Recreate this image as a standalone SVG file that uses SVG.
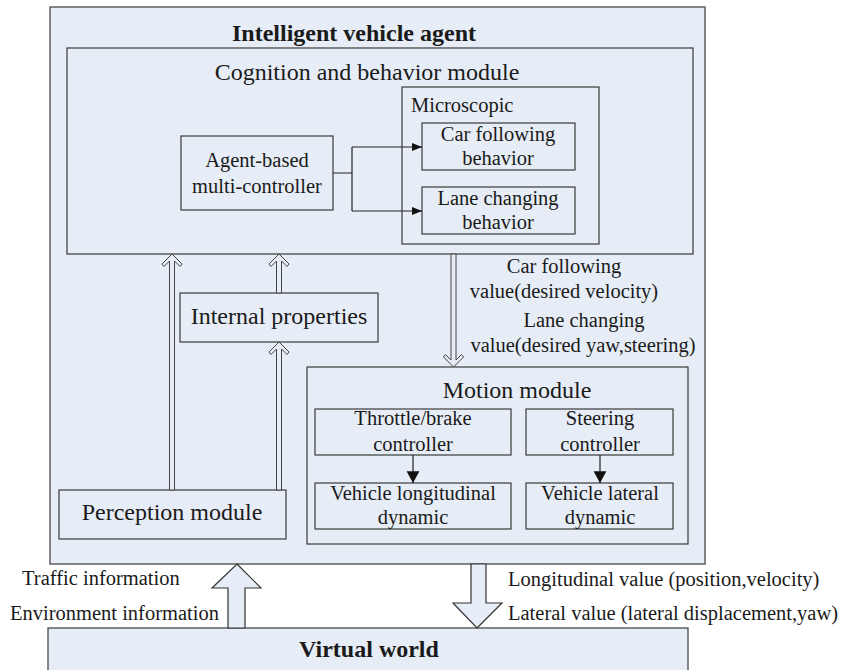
<svg xmlns="http://www.w3.org/2000/svg" width="845" height="670" viewBox="0 0 845 670" font-family="'Liberation Serif', 'DejaVu Serif', serif">
<defs>
<style>
.box{fill:#e7edf6;stroke:#3a3a3a;stroke-width:1.2}
.obox{fill:#e7edf6;stroke:#555;stroke-width:1.4}
.t24,.tb,.t20{font-family:'Liberation Serif','DejaVu Serif',serif;fill:#1a1a1a}
.t24{font-size:24px}
.tb{font-size:24px;font-weight:bold}
.t20{font-size:20.5px}
.mid{text-anchor:middle}
.ln{fill:none;stroke:#222;stroke-width:1.2}
.harr{fill:#e7edf6;stroke:#444;stroke-width:1}
.barr{fill:#e7edf6;stroke:#333;stroke-width:1.2}
</style>
<marker id="ah" viewBox="0 0 10 10" refX="10" refY="5" markerWidth="10" markerHeight="10" markerUnits="userSpaceOnUse" orient="auto">
<path d="M0,1 L10,5 L0,9 Z" fill="#111"/>
</marker>
<marker id="ahv" viewBox="0 0 10 12" refX="10" refY="6" markerWidth="12" markerHeight="14" markerUnits="userSpaceOnUse" orient="auto">
<path d="M0,0.5 L10,6 L0,11.5 Z" fill="#111"/>
</marker>
</defs>
<rect width="845" height="670" fill="#fff"/>

<g id="agent">
<rect class="obox" x="50" y="7" width="655" height="557"/>
<text class="tb mid" x="354" y="41">Intelligent vehicle agent</text>
</g>

<g id="cognition">
<rect class="box" x="67" y="48" width="626" height="206"/>
<text class="t24 mid" x="367" y="80">Cognition and behavior module</text>
</g>

<g id="microscopic">
<rect class="box" x="402" y="87" width="197" height="157"/>
<text class="t20" x="411" y="112">Microscopic</text>
</g>

<g id="car-following">
<rect class="box" x="422" y="123" width="153" height="47"/>
<text class="t20 mid" x="498" y="141">Car following</text>
<text class="t20 mid" x="498" y="165">behavior</text>
</g>

<g id="lane-changing">
<rect class="box" x="422" y="187" width="153" height="47"/>
<text class="t20 mid" x="498" y="205">Lane changing</text>
<text class="t20 mid" x="498" y="229">behavior</text>
</g>

<g id="multi-controller">
<rect class="box" x="181" y="136" width="152" height="74"/>
<text class="t20 mid" x="257" y="167">Agent-based</text>
<text class="t20 mid" x="257" y="193">multi-controller</text>
</g>

<g id="internal">
<rect class="box" x="180" y="293" width="198" height="49"/>
<text class="t24 mid" x="279" y="324">Internal properties</text>
</g>

<g id="perception">
<rect class="box" x="59" y="490" width="227" height="49"/>
<text class="t24 mid" x="172" y="520">Perception module</text>
</g>

<g id="motion">
<rect class="box" x="307" y="367" width="381" height="177"/>
<text class="t24 mid" x="517" y="398">Motion module</text>
</g>

<g id="throttle">
<rect class="box" x="315" y="409" width="196" height="46"/>
<text class="t20 mid" x="413" y="425">Throttle/brake</text>
<text class="t20 mid" x="413" y="451">controller</text>
</g>

<g id="steering">
<rect class="box" x="526" y="409" width="147" height="46"/>
<text class="t20 mid" x="600" y="425">Steering</text>
<text class="t20 mid" x="600" y="451">controller</text>
</g>

<g id="longitudinal">
<rect class="box" x="315" y="483" width="196" height="46"/>
<text class="t20 mid" x="413" y="500">Vehicle longitudinal</text>
<text class="t20 mid" x="413" y="524">dynamic</text>
</g>

<g id="lateral">
<rect class="box" x="526" y="483" width="147" height="46"/>
<text class="t20 mid" x="600" y="500">Vehicle lateral</text>
<text class="t20 mid" x="600" y="524">dynamic</text>
</g>

<g id="virtual-world">
<rect class="obox" x="48" y="628" width="640" height="60"/>
<text class="tb mid" x="369" y="657">Virtual world</text>
</g>

<g id="connectors">
<path class="ln" d="M333,173 H352 M352,147 V211"/>
<path class="ln" d="M352,147 H422" marker-end="url(#ah)"/>
<path class="ln" d="M352,211 H422" marker-end="url(#ah)"/>
<path class="ln" d="M413,455 V483" marker-end="url(#ahv)"/>
<path class="ln" d="M600,455 V483" marker-end="url(#ahv)"/>

<path class="harr" d="M172,254 L182,264 L180,266.5 L174.5,261 L174.5,490 L169.5,490 L169.5,261 L164,266.5 L162,264 Z"/>
<path class="harr" d="M279,254 L289,264 L287,266.5 L281.5,261 L281.5,293 L276.5,293 L276.5,261 L271,266.5 L269,264 Z"/>
<path class="harr" d="M279,342 L289,352 L287,354.5 L281.5,349 L281.5,490 L276.5,490 L276.5,349 L271,354.5 L269,352 Z"/>
<path class="harr" d="M453.5,367 L463.5,357 L461.5,354.5 L456,360 L456,254 L451,254 L451,360 L445.5,354.5 L443.5,357 Z"/>

<path class="barr" d="M237,564 L261,588 L245,588 L245,628 L228,628 L228,588 L212,588 Z"/>
<path class="barr" d="M477,628 L502,603 L486,603 L486,564 L471,564 L471,603 L453,603 Z"/>

<text class="t20 mid" x="564" y="273">Car following</text>
<text class="t20 mid" x="564" y="298">value(desired velocity)</text>
<text class="t20 mid" x="584" y="327">Lane changing</text>
<text class="t20 mid" x="583" y="352">value(desired yaw,steering)</text>

<text class="t20" x="22" y="585">Traffic information</text>
<text class="t20" x="10" y="620">Environment information</text>
<text class="t20" x="508" y="586">Longitudinal value (position,velocity)</text>
<text class="t20" x="508" y="620">Lateral value (lateral displacement,yaw)</text>
</g>
</svg>
